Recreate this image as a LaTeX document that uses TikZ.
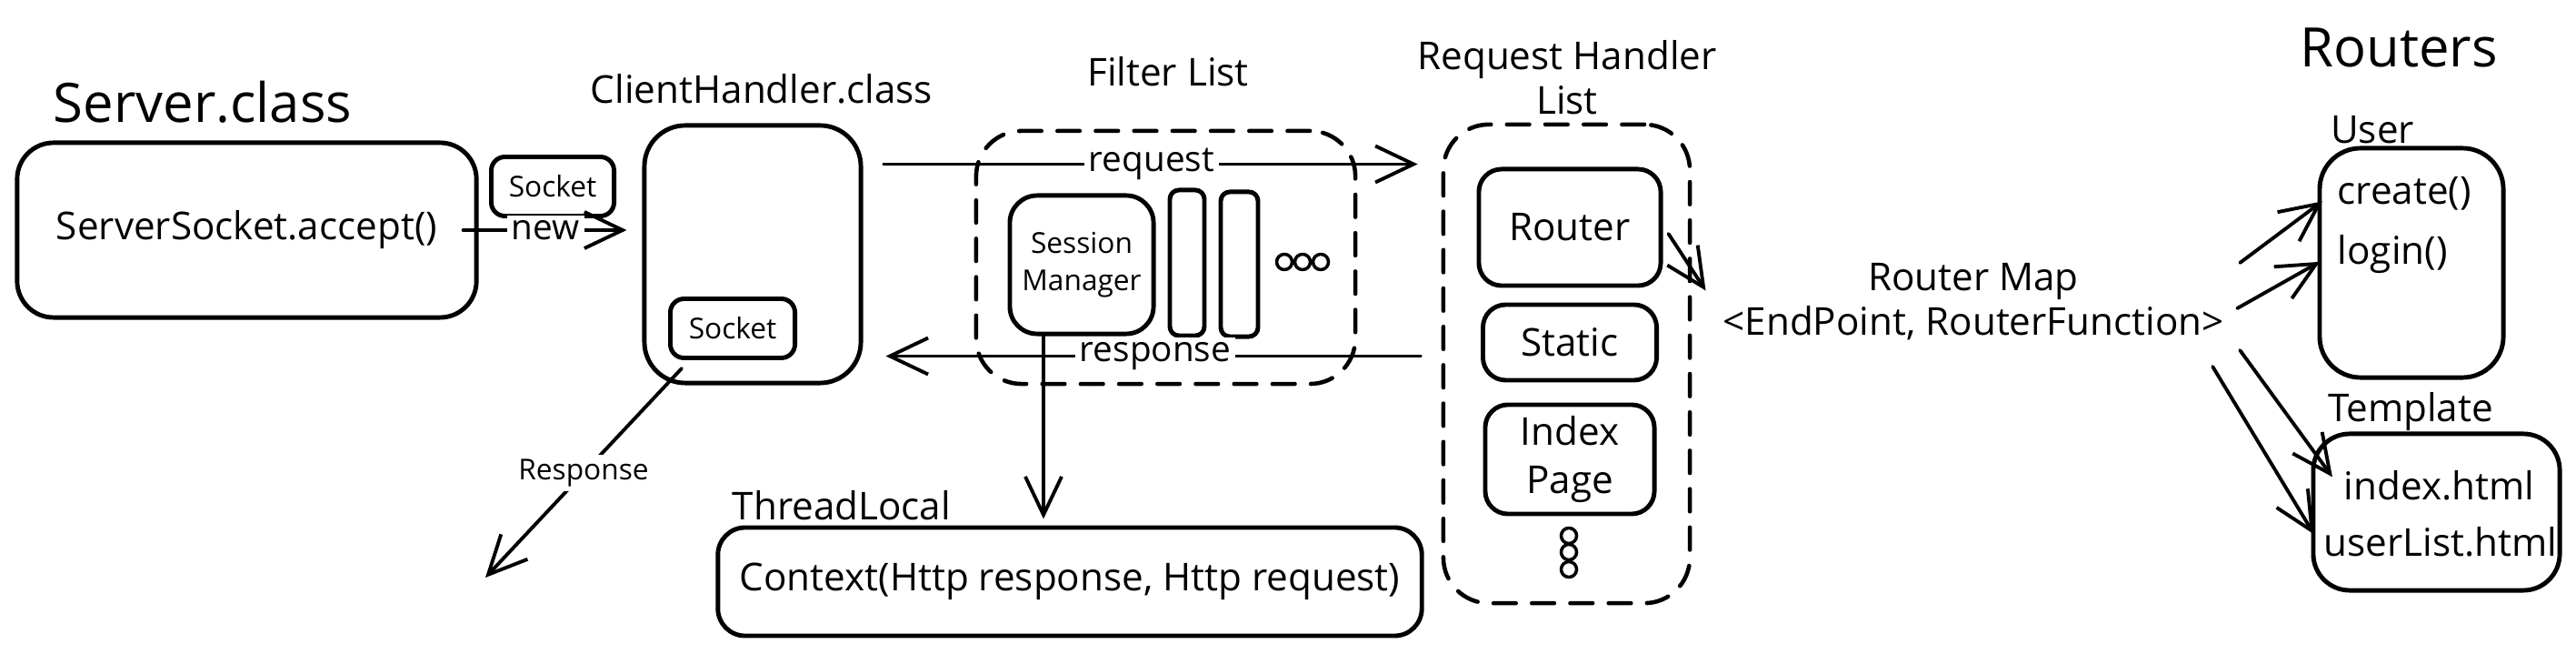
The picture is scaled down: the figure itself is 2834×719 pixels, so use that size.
\documentclass[tikz,border=0pt]{standalone}
\usepackage{fontspec}
\setmainfont{Open Sans}
\usetikzlibrary{arrows.meta}

\begin{document}
\begin{tikzpicture}[x=0.01cm, y=-0.01cm, line cap=round, line join=round,
    box/.style={draw, line width=1.4pt, rounded corners=0.35cm, inner sep=0pt, align=center, font=\fontsize{12}{15}\selectfont},
    dbox/.style={draw, line width=1.3pt, dash pattern=on 7pt off 5pt, rounded corners=0.5cm, inner sep=0pt},
    txt/.style={font=\fontsize{12}{14}\selectfont, align=center},
    big/.style={font=\fontsize{17}{20}\selectfont},
    sml/.style={font=\fontsize{9}{11.5}\selectfont, align=center},
    lbl/.style={fill=white, inner sep=1.5pt, font=\fontsize{11}{13}\selectfont},
    arr/.style={line width=1.1pt, -{Straight Barb[length=0.42cm, width=0.4cm]}},
    ringdot/.style={draw, circle, line width=1pt, minimum size=0.17cm, inner sep=0pt}]

    % 画布范围
    \useasboundingbox (0,0) rectangle (2834,719);

    % 绘制 Server.class
    \node[big] (srvT) at (223,112) {Server.class};
    \node[box, minimum width=5.05cm, minimum height=1.92cm, rounded corners=0.4cm] (srv) at (271.5,253) {ServerSocket.accept()};
    \node[box, sml, minimum width=1.35cm, minimum height=0.65cm, rounded corners=0.15cm] (sock1) at (608,205) {Socket};

    % 绘制 ClientHandler.class
    \node[txt] (chT) at (838,98) {ClientHandler.class};
    \node[box, minimum width=2.38cm, minimum height=2.83cm, rounded corners=0.45cm] (client) at (828,279.5) {};
    \node[box, sml, minimum width=1.37cm, minimum height=0.65cm, rounded corners=0.15cm] (sock2) at (806,361) {Socket};

    % 绘制过滤器列表
    \node[txt] (fltT) at (1285,79) {Filter List};
    \node[dbox, minimum width=4.17cm, minimum height=2.78cm] (flt) at (1282.5,283) {};
    \node[box, sml, minimum width=1.58cm, minimum height=1.52cm, rounded corners=0.3cm] (sm) at (1190,291) {Session\\Manager};
    \node[box, minimum width=0.38cm, minimum height=1.6cm, rounded corners=0.1cm] (bar1) at (1306,289) {};
    \node[box, minimum width=0.41cm, minimum height=1.59cm, rounded corners=0.1cm] (bar2) at (1363.5,290.5) {};
    \foreach \n/\x in {1/1413, 2/1433, 3/1453}
        \node[ringdot] (fd\n) at (\x,288) {};

    % 绘制请求处理器列表
    \node[txt] (rhT) at (1724,85) {Request Handler\\List};
    \node[dbox, minimum width=2.71cm, minimum height=5.26cm] (rhl) at (1723.5,400) {};
    \foreach \nm/\y/\w/\h/\lab in {
        router/250/2.0/1.28/Router,
        static/376.5/1.91/0.83/Static,
        index/505/1.86/1.2/Index\\Page%
    } {
        \node[box, minimum width=\w cm, minimum height=\h cm, rounded corners=0.25cm] (\nm) at (1727,\y) {\lab};
    }
    \foreach \n/\y in {1/589, 2/607, 3/626}
        \node[ringdot] (rd\n) at (1726,\y) {};

    % 绘制 ThreadLocal
    \node[txt] (tlT) at (926,556) {ThreadLocal};
    \node[box, minimum width=7.74cm, minimum height=1.19cm, rounded corners=0.3cm] (ctx) at (1177,639.5) {Context(Http response, Http request)};

    % 绘制 Router Map
    \node[txt, inner sep=0.1cm] (map) at (2171,332) {Router Map\\<EndPoint, RouterFunction>};

    % 绘制 Routers
    \node[big] (rtT) at (2639,52) {Routers};
    \node[txt] (usrT) at (2610,143) {User};
    \node[box, minimum width=2.02cm, minimum height=2.52cm, rounded corners=0.45cm] (usr) at (2653,289) {};
    \node[txt, anchor=west, inner sep=0.05cm] (create) at (2566,213) {create()};
    \node[txt, anchor=west, inner sep=0.05cm] (login) at (2566,280) {login()};
    \node[txt] (tplT) at (2652,453) {Template};
    \node[box, minimum width=2.71cm, minimum height=1.72cm, rounded corners=0.4cm] (tpl) at (2680.5,563) {};
    \node[txt, anchor=west, inner sep=0.05cm] (idx) at (2573,534) {index.html};
    \node[txt, anchor=west, inner sep=0.05cm] (ulist) at (2551,596) {userList.html};

    % 连接箭头
    \draw[arr, shorten <=-0.17cm, shorten >=0.17cm] (srv.east) -- (srv.east -| client.west) node[pos=0.41, lbl] {new};

    \coordinate (rq) at ([xshift=0.23cm, yshift=-0.45cm]client.north east);
    \draw[arr, shorten >=0.26cm] (rq) -- (rq -| rhl.west) node[pos=0.48, lbl] {request};

    \coordinate (rs) at ([xshift=0.25cm, yshift=0.32cm]client.south east);
    \draw[arr, shorten <=0.23cm] (rs -| rhl.west) -- (rs) node[pos=0.515, lbl] {response};

    \coordinate (out) at (534,635);
    \draw[arr] ([xshift=0.15cm, yshift=-0.09cm]sock2.south west) -- (out) node[midway, lbl, sml] {Response};

    \coordinate (smo) at ([xshift=-0.42cm]sm.south);
    \draw[arr, shorten >=0.07cm] (smo) -- (smo |- ctx.north);

    \draw[arr, shorten >=0.15cm] ([xshift=0.06cm, yshift=-0.07cm]router.east) -- (map.west);

    \draw[arr, shorten >=0.14cm] ([xshift=0.07cm, yshift=0.43cm]map.east) -- (create.west);
    \draw[arr, shorten >=0.16cm] ([xshift=0.04cm, yshift=-0.07cm]map.east) -- (login.west);
    \draw[arr, shorten >=0.12cm] ([xshift=0.07cm, yshift=-0.53cm]map.east) -- (idx.west);
    \draw[arr, shorten >=0.1cm] ([xshift=-0.23cm, yshift=-0.71cm]map.east) -- (ulist.west);

\end{tikzpicture}
\end{document}
